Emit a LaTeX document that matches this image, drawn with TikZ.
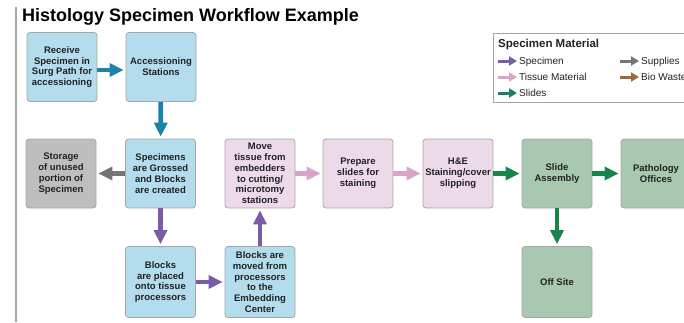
\documentclass[tikz,border=0pt]{standalone}
\usepackage{fontspec}
\setmainfont{Liberation Sans}
\usetikzlibrary{arrows.meta}

\definecolor{boxline}{HTML}{A6A6A6}
\definecolor{fillblue}{HTML}{B3DCEC}
\definecolor{fillgray}{HTML}{BEBEBE}
\definecolor{fillpink}{HTML}{ECDAE9}
\definecolor{fillgreen}{HTML}{A9C8B1}
\definecolor{arrblue}{HTML}{1B82AC}
\definecolor{arrgray}{HTML}{757575}
\definecolor{arrpurple}{HTML}{7A5BA6}
\definecolor{arrpink}{HTML}{D9A3CC}
\definecolor{arrgreen}{HTML}{168548}
\definecolor{arrslides}{HTML}{207A6B}
\definecolor{arrbrown}{HTML}{9A6A3C}
\definecolor{textdark}{HTML}{222222}

\begin{document}
\begin{tikzpicture}[x=1pt,y=-1pt,
	stepbox/.style={draw=boxline, line width=0.8pt, rounded corners=3pt,
		minimum width=70pt, minimum height=69pt, inner sep=1pt, align=center,
		text=textdark, font=\fontsize{9.5}{10.8}\selectfont\bfseries},
	flow/.style={line width=4.8pt, -{Triangle[width=13pt,length=14pt]}, shorten >=2pt},
	key/.style={line width=3pt, -{Triangle[width=9pt,length=8pt]}},
	keytext/.style={anchor=west, inner sep=0pt, text height=7.5pt, text depth=0pt,
		text=textdark, font=\fontsize{10}{12}\selectfont}]
	\path[use as bounding box, clip] (0,0) rectangle (684,322);

	% Title and margin rule
	\draw[boxline, line width=1.2pt] (16,7) -- (16,322);
	\node[anchor=base west, inner sep=0pt, font=\fontsize{18}{20}\selectfont\bfseries] (title) at (22,21) {Histology Specimen Workflow Example};

	% Top row
	\node[stepbox, fill=fillblue] (receive) at (62,67) {Receive\\Specimen in\\Surg Path for\\accessioning};
	\node[stepbox, fill=fillblue] (access) at (161,67) {Accessioning\\Stations};

	% Middle row
	\node[stepbox, fill=fillgray] (storage) at (61,173.5) {Storage\\of unused\\portion of\\Specimen};
	\node[stepbox, fill=fillblue] (grossed) at (160.5,173.5) {Specimens\\are Grossed\\and Blocks\\are created};
	\node[stepbox, fill=fillpink] (movetissue) at (260,173.5) {Move\\tissue from\\embedders\\to cutting/\\microtomy\\stations};
	\node[stepbox, fill=fillpink] (prepare) at (358,173.5) {Prepare\\slides for\\staining};
	\node[stepbox, fill=fillpink] (stain) at (458,173.5) {H\&E\\Staining/cover\\slipping};
	\node[stepbox, fill=fillgreen] (assembly) at (557,173.5) {Slide\\Assembly};
	\node[stepbox, fill=fillgreen] (offices) at (656,173.5) {Pathology\\Offices};

	% Bottom row
	\node[stepbox, fill=fillblue, minimum height=71pt] (placed) at (160.5,282) {Blocks\\are placed\\onto tissue\\processors};
	\node[stepbox, fill=fillblue, minimum height=71pt] (moved) at (260,282) {Blocks are\\moved from\\processors\\to the\\Embedding\\Center};
	\node[stepbox, fill=fillgreen, minimum height=71pt] (offsite) at (557,282) {Off Site};

	% Flow arrows
	\draw[flow, arrblue] ([yshift=-3pt]receive.east) -- ([yshift=-3pt]access.west);
	\draw[flow, arrblue] (access) -- (grossed);
	\draw[flow, arrgray] (grossed) -- (storage);
	\draw[flow, arrpurple] (grossed) -- (placed);
	\draw[flow, arrpurple] (placed) -- (moved);
	\draw[flow, arrpurple] (moved) -- (movetissue);
	\draw[flow, arrpink] (movetissue) -- (prepare);
	\draw[flow, arrpink] (prepare) -- (stain);
	\draw[flow, arrgreen] (stain) -- (assembly);
	\draw[flow, arrgreen] (assembly) -- (offices);
	\draw[flow, arrgreen] (assembly) -- (offsite);

	% Legend
	\draw[boxline, line width=0.8pt, fill=white] (493,33) rectangle (720,102);
	\node[anchor=base west, inner sep=0pt, text=textdark, font=\fontsize{11.5}{13}\selectfont\bfseries] (keytitle) at (498,47.5) {Specimen Material};
	\node[keytext] (kspec) at (519,61) {Specimen};
	\node[keytext] (ktissue) at (519,77) {Tissue Material};
	\node[keytext] (kslides) at (519,93) {Slides};
	\node[keytext] (ksupplies) at (641,61) {Supplies};
	\node[keytext] (kwaste) at (641,77) {Bio Waste};
	\draw[key, arrpurple] ([xshift=-21pt]kspec.west) -- ([xshift=-2pt]kspec.west);
	\draw[key, arrpink] ([xshift=-21pt]ktissue.west) -- ([xshift=-2pt]ktissue.west);
	\draw[key, arrslides] ([xshift=-21pt]kslides.west) -- ([xshift=-2pt]kslides.west);
	\draw[key, arrgray] ([xshift=-21pt]ksupplies.west) -- ([xshift=-2pt]ksupplies.west);
	\draw[key, arrbrown] ([xshift=-21pt]kwaste.west) -- ([xshift=-2pt]kwaste.west);
\end{tikzpicture}
\end{document}
